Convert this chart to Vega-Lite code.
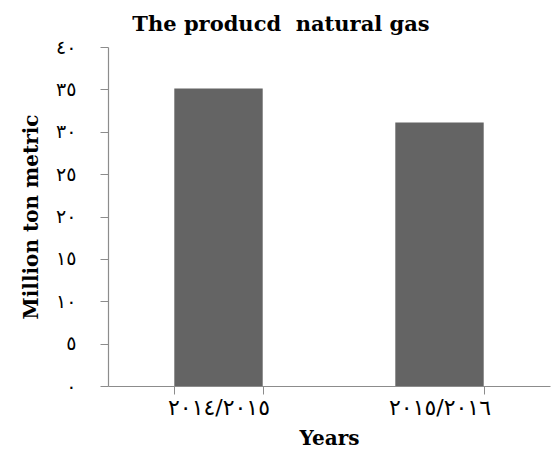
{
  "$schema": "https://vega.github.io/schema/vega-lite/v6.json",
  "width": 442,
  "height": 339,
  "autosize": {"type": "none"},
  "padding": {"left": 108, "top": 47, "right": 4, "bottom": 80},
  "background": "white",
  "title": {
    "text": "The producd\u00a0 natural gas",
    "font": "DejaVu Serif",
    "fontSize": 21,
    "fontWeight": "bold",
    "color": "#000000",
    "anchor": "middle",
    "dx": -48,
    "offset": 3
  },
  "data": {
    "values": [
      {"year": "٢٠١٤/٢٠١٥", "value": 35.1},
      {"year": "٢٠١٥/٢٠١٦", "value": 31.1}
    ]
  },
  "mark": {"type": "bar", "color": "#646464"},
  "encoding": {
    "x": {
      "field": "year",
      "type": "nominal",
      "sort": null,
      "scale": {"paddingInner": 0.6, "paddingOuter": 0.3},
      "axis": {
        "title": "Years",
        "titleFont": "DejaVu Serif",
        "titleFontSize": 20,
        "titleFontWeight": "bold",
        "titleColor": "#000000",
        "titlePadding": 10,
        "labelAngle": 0,
        "labelFont": "DejaVu Sans",
        "labelFontSize": 22,
        "labelColor": "#000000",
        "labelPadding": 3,
        "tickBand": "extent",
        "tickSize": 8,
        "tickColor": "#8c8c8c",
        "domainColor": "#8c8c8c",
        "domainWidth": 1.2,
        "grid": false
      }
    },
    "y": {
      "field": "value",
      "type": "quantitative",
      "scale": {"domain": [0, 40], "nice": false},
      "axis": {
        "title": "Million ton metric",
        "titleFont": "DejaVu Serif",
        "titleFontSize": 20,
        "titleFontWeight": "bold",
        "titleColor": "#000000",
        "titlePadding": 14,
        "values": [0, 5, 10, 15, 20, 25, 30, 35, 40],
        "labelExpr": "['٠','٥','١٠','١٥','٢٠','٢٥','٣٠','٣٥','٤٠'][datum.value/5]",
        "labelFont": "DejaVu Sans",
        "labelFontSize": 19,
        "labelColor": "#000000",
        "labelPadding": 24,
        "tickSize": 8,
        "tickColor": "#8c8c8c",
        "domainColor": "#8c8c8c",
        "domainWidth": 1.2,
        "grid": false
      }
    }
  },
  "config": {"view": {"stroke": null}}
}
